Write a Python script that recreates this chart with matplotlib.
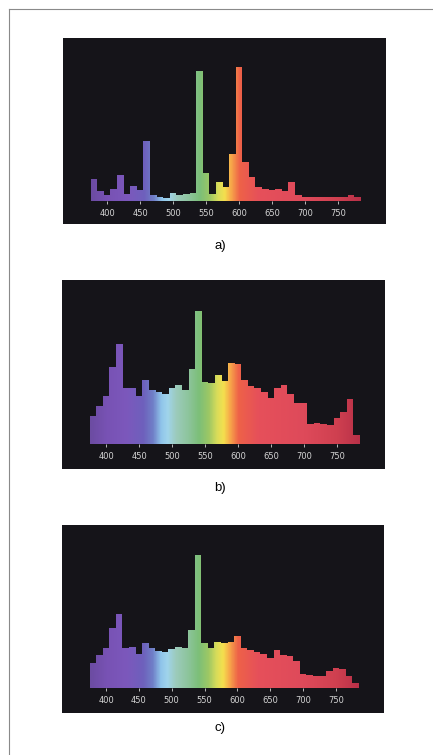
import numpy as np
import matplotlib.pyplot as plt
from matplotlib.colors import LinearSegmentedColormap
from matplotlib.lines import Line2D

# bins de 10 nm, de 375 a 785 nm (centros 380..780)
edges = np.arange(375, 786, 10)
ticks = [400, 450, 500, 550, 600, 650, 700, 750]

# intensidade relativa (pico = 100)
espectro_a = [16, 7.5, 4, 9, 19, 5, 11, 8, 45, 4, 3, 2, 6, 4, 5, 6, 97.5, 20.5, 5, 14,
              10, 35, 100, 29, 17.5, 10, 9, 8, 9, 7.5, 14, 4, 3, 2.5, 2.5, 2.5, 2.5,
              2.5, 2.5, 4, 3]
espectro_b = [21, 29, 36.5, 58, 75, 42, 42.5, 36.5, 48, 41, 39.5, 38, 42, 44.5, 41, 56,
              100, 47, 46, 52, 47.5, 61, 60, 48, 44, 42, 39, 34.5, 42, 44.5, 38, 31, 31,
              15, 16, 15, 14.5, 19.5, 24.5, 34, 7]
espectro_c = [19, 25, 30, 45, 56, 30.5, 31, 25.5, 34, 30, 28, 27, 29.5, 31, 30, 44, 100,
              34, 30.5, 34.5, 34, 35, 39, 30.5, 29, 27.5, 25.5, 23, 29, 25, 24, 20.5,
              10.5, 10, 9.5, 9, 13, 15.5, 14.5, 9.5, 4]
rotulos = ['a)', 'b)', 'c)']

# cores do espectro visivel (comprimento de onda -> cor)
paradas = [(375, '#6c4ca2'), (400, '#7852b4'), (430, '#7c58bc'), (455, '#6e60bc'),
           (470, '#7080c8'), (482, '#8fc4ea'), (492, '#a0d4ec'), (505, '#9ccbbc'),
           (525, '#8cc49a'), (540, '#7cbf78'), (555, '#9ec864'), (567, '#d8dc5a'),
           (577, '#f4e04e'), (587, '#f7a84a'), (600, '#ee6248'), (630, '#e6505a'),
           (700, '#de4a5a'), (750, '#cf4050'), (785, '#b83048')]
w0, w1 = paradas[0][0], paradas[-1][0]
cmap = LinearSegmentedColormap.from_list(
    'espectro', [((w - w0) / (w1 - w0), c) for w, c in paradas])

W, H = 433, 755
fig = plt.figure(figsize=(W / 100, H / 100), dpi=100)

# caixas pretas em pixels: (x0, y0, x1, y1), limites y
caixas = [(63, 38, 386, 224), (62, 280, 385, 469), (62, 525, 384, 713)]
ylims = [(-17.5, 122), (-18.5, 123), (-18.5, 122.5)]
pos_rotulo = [246, 488, 728]

for valores, (x0, y0, x1, y1), yl, rot, yr in zip(
        [espectro_a, espectro_b, espectro_c], caixas, ylims, rotulos, pos_rotulo):
    ax = fig.add_axes([x0 / W, 1 - y1 / H, (x1 - x0) / W, (y1 - y0) / H])
    ax.set_facecolor('#151419')

    forma = ax.stairs(valores, edges, fill=True, baseline=0,
                      facecolor='none', edgecolor='none')
    grad = np.linspace(w0, w1, 600)[None, :]
    im = ax.imshow(grad, extent=[w0, w1, 0, max(valores)], aspect='auto',
                   cmap=cmap, origin='lower', interpolation='bilinear')
    im.set_clip_path(forma)

    ax.set_xlim(333, 823)
    ax.set_ylim(*yl)
    for s in ['top', 'left', 'right']:
        ax.spines[s].set_visible(False)
    ax.spines['bottom'].set_position(('data', 0))
    ax.spines['bottom'].set_visible(False)
    ax.set_yticks([])
    ax.set_xticks(ticks)
    ax.tick_params(axis='x', colors='#d4d4d4', length=2.5, width=0.6,
                   pad=3.2, labelsize=6)

    fig.text(220 / W, 1 - yr / H, rot, ha='center', va='center',
             fontsize=9.5, family='Liberation Sans')

# moldura externa (so topo e lado esquerdo aparecem)
fig.add_artist(Line2D([9 / W, 1], [1 - 9 / H, 1 - 9 / H], color='#8a8a8a', lw=0.8))
fig.add_artist(Line2D([9 / W, 9 / W], [1 - 9 / H, 0], color='#8a8a8a', lw=0.8))

fig.savefig('out.png', dpi=100)
